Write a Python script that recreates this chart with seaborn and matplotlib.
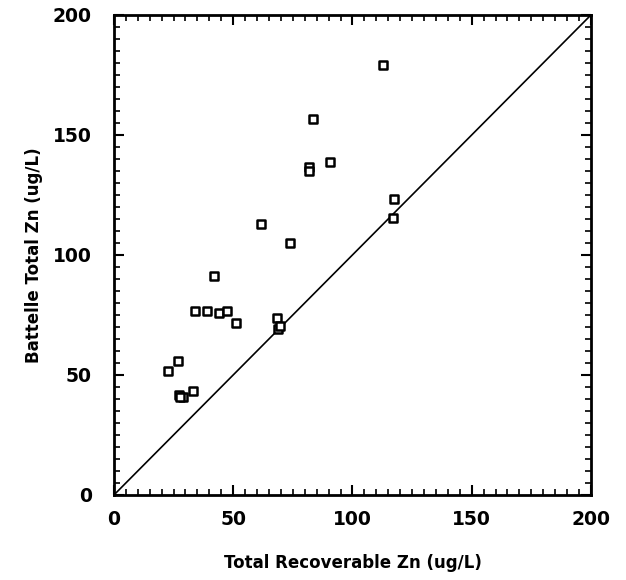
import matplotlib
matplotlib.use("Agg")
import matplotlib.pyplot as plt
import seaborn as sns
import pandas as pd
from matplotlib.ticker import MultipleLocator

total_recoverable = [112.9, 83.3, 81.9, 81.9, 90.6, 117.5, 117.1, 61.8, 73.8,
                     41.9, 34.0, 38.9, 44.2, 47.5, 51.2, 68.2, 68.9, 69.6,
                     22.8, 26.7, 33.0, 27.4, 29.1, 27.8]
battelle_total = [179.2, 156.5, 136.5, 135.1, 138.9, 123.2, 115.3, 113.1, 105.1,
                  91.3, 76.8, 76.8, 75.7, 76.8, 71.8, 73.9, 69.0, 70.4,
                  51.5, 56.0, 43.2, 41.7, 40.7, 41.0]
line_x = [0, 200]
line_y = [0, 200]
ticks = [0, 50, 100, 150, 200]

df = pd.DataFrame({"x": total_recoverable, "y": battelle_total})

sns.set_style("white")
plt.rcParams['font.family'] = ['DejaVu Sans']
plt.rcParams.update({"text.color": "black", "axes.labelcolor": "black",
                     "xtick.color": "black", "ytick.color": "black"})

fig = plt.figure(figsize=(6.26, 5.8), dpi=100)
ax = fig.add_axes([0.182, 0.1466, 0.762, 0.8276])

sns.lineplot(x=line_x, y=line_y, ax=ax, color="black", linewidth=1.2)
sns.scatterplot(data=df, x="x", y="y", ax=ax, marker="s", s=30,
                facecolor="white", edgecolor="black", linewidth=1.8, zorder=3)

ax.set_xlim(0, 200)
ax.set_ylim(0, 200)
ax.set_xticks(ticks)
ax.set_yticks(ticks)
ax.xaxis.set_minor_locator(MultipleLocator(5))
ax.yaxis.set_minor_locator(MultipleLocator(5))
ax.tick_params(which="both", direction="in", top=True, right=True,
               bottom=True, left=True, color="black")
ax.tick_params(which="major", length=7, width=1.5, labelsize=13.5)
ax.tick_params(axis="x", which="major", pad=11)
ax.tick_params(axis="y", which="major", pad=16)
ax.tick_params(which="minor", length=4, width=1.2)
for lab in ax.get_xticklabels() + ax.get_yticklabels():
    lab.set_fontweight("bold")
for sp in ax.spines.values():
    sp.set_linewidth(2)
    sp.set_color("black")

ax.set_xlabel("Total Recoverable Zn (ug/L)", fontsize=12, fontweight="bold", labelpad=18)
ax.set_ylabel("Battelle Total Zn (ug/L)", fontsize=12, fontweight="bold", labelpad=7)

fig.savefig("out.png", dpi=100)
